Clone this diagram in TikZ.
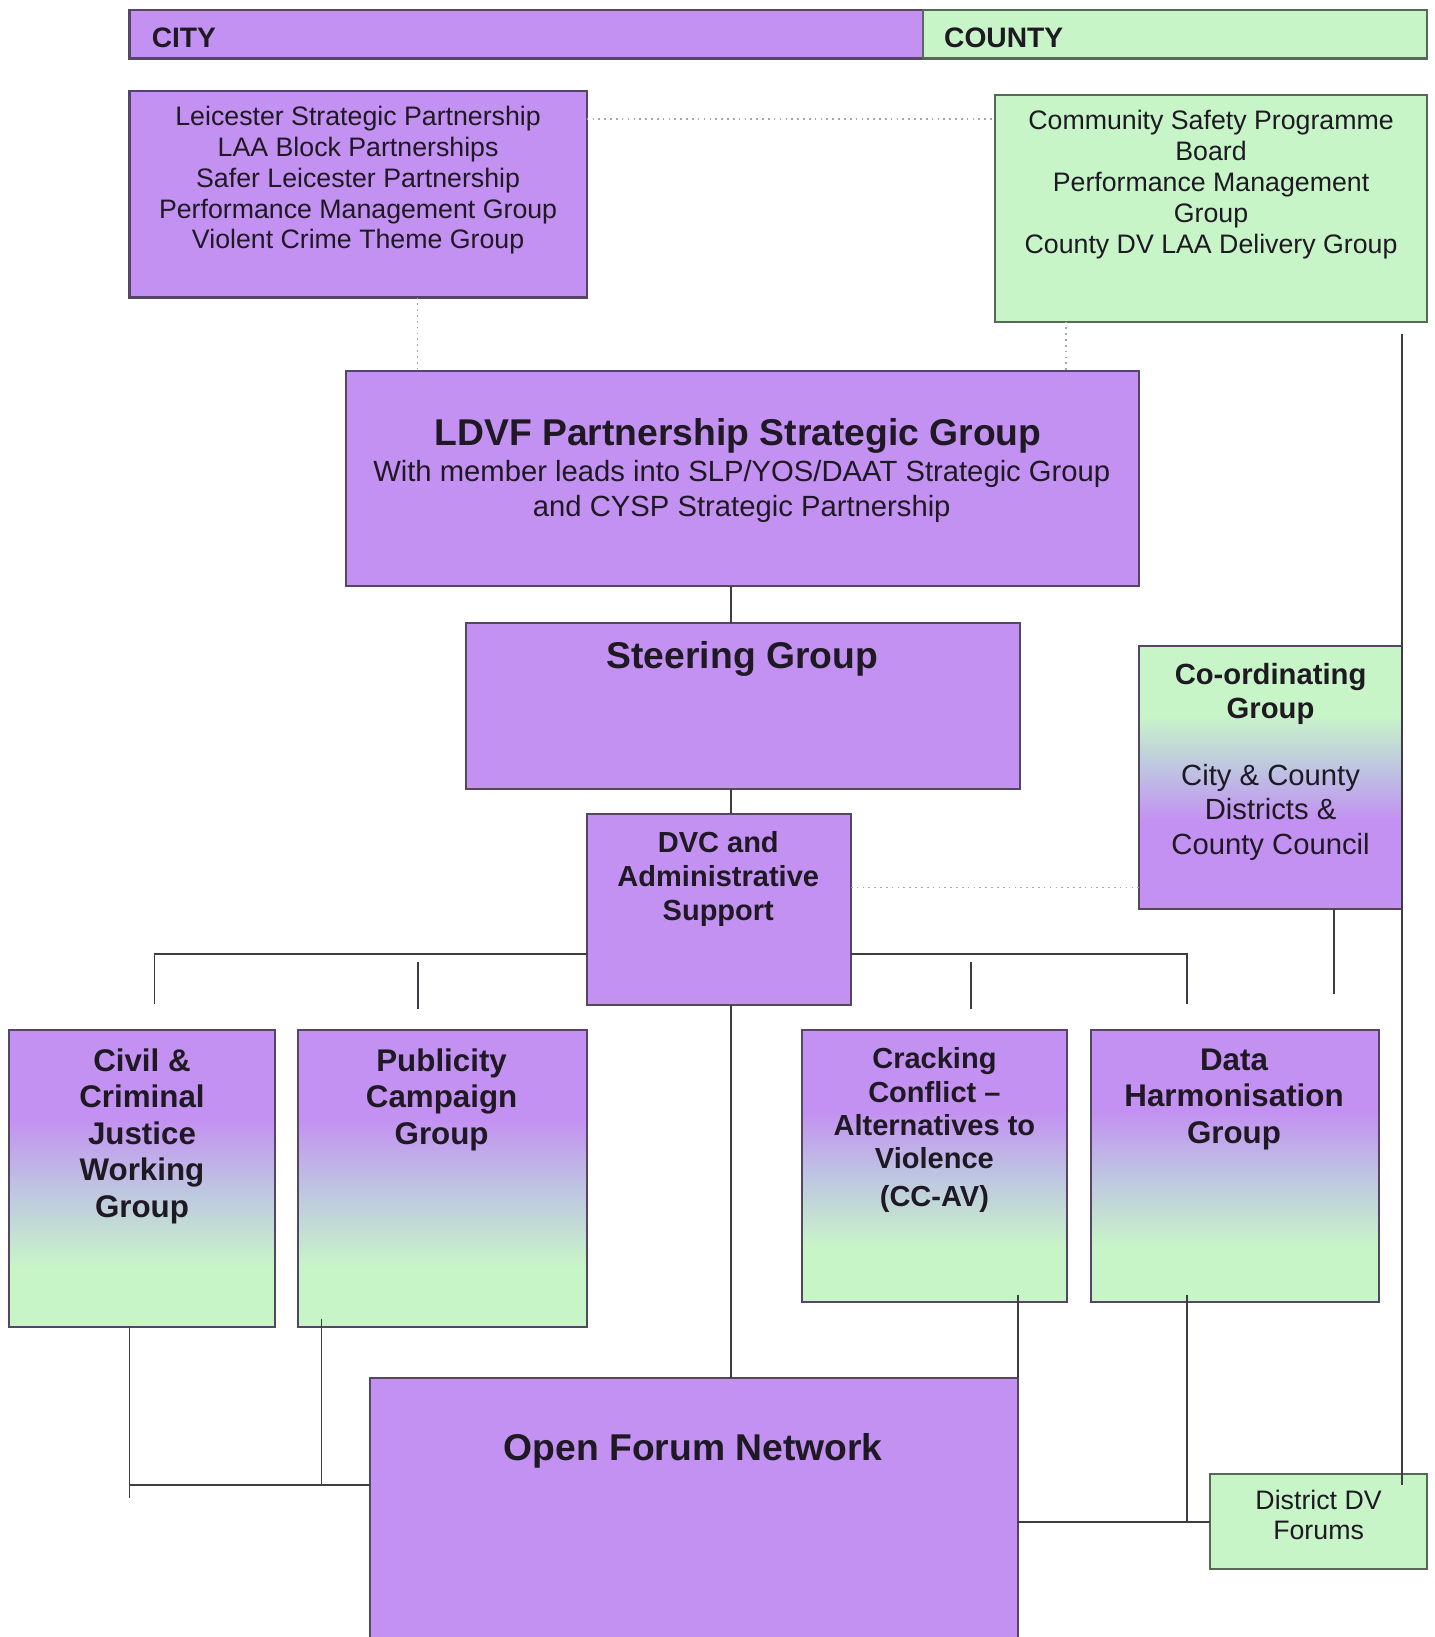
\documentclass[tikz,border=0pt]{standalone}
\usepackage{fontspec}
\setmainfont{Liberation Sans}
\usetikzlibrary{calc}
\definecolor{pur}{RGB}{195,145,241}
\definecolor{grn}{RGB}{200,245,200}
\definecolor{mid}{RGB}{190,198,225}
\definecolor{pedge}{RGB}{85,70,100}
\definecolor{gedge}{RGB}{85,105,85}
\definecolor{ink}{RGB}{30,25,35}
\pgfdeclareverticalshading{purgrn}{100bp}{color(0bp)=(grn); color(35bp)=(grn); color(48bp)=(mid); color(60bp)=(pur); color(100bp)=(pur)}
\pgfdeclareverticalshading{grnpur}{100bp}{color(0bp)=(pur); color(42bp)=(pur); color(52bp)=(mid); color(62bp)=(grn); color(100bp)=(grn)}
\tikzset{
  geom/.style 2 args={minimum width=#1*0.5pt, minimum height=#2*0.5pt, anchor=north west, inner sep=0pt, outer sep=0pt},
  pbox/.style={draw=pedge, fill=pur, line width=1pt},
  gbox/.style={draw=gedge, fill=grn, line width=1pt},
  pgbox/.style={draw=pedge, shade, shading=purgrn, line width=1pt},
  gpbox/.style={draw=pedge, shade, shading=grnpur, line width=1pt},
  conn/.style={draw=ink!85, line width=0.9pt},
  dotline/.style={draw=black!35, line width=0.8pt, dotted},
  txt/.style={align=center, inner sep=0pt, text=ink, anchor=north},
  fA/.style={font=\fontsize{12.8}{14.75}\selectfont},
  fT/.style={font=\bfseries\fontsize{17.85}{21}\selectfont},
  fS/.style={font=\fontsize{14}{16.5}\selectfont},
  fD/.style={font=\bfseries\fontsize{13.9}{16.25}\selectfont},
  fC/.style={font=\fontsize{14}{16.5}\selectfont},
  fB/.style={font=\bfseries\fontsize{15}{17.5}\selectfont},
  fK/.style={font=\bfseries\fontsize{13.9}{16}\selectfont},
  fH/.style={font=\bfseries\fontsize{13.5}{16}\selectfont},
}
\begin{document}
\begin{tikzpicture}[x=0.5pt,y=-0.5pt]
\useasboundingbox (0,0) rectangle (1374,1568);
% header bar
\node[pbox, geom={760}{46}] (city) at (124,10) {};
\node[gbox, geom={483}{46}] (county) at (884,10) {};
% boxes
\node[pbox, geom={438}{198}] (lsp) at (124,87) {};
\node[gbox, geom={414}{217}] (csp) at (953,91) {};
\node[pbox, geom={760}{206}] (ldvf) at (331,355) {};
\node[pbox, geom={531}{159}] (steer) at (446,597) {};
\node[pbox, geom={253}{183}] (dvc) at (562,780) {};
\node[gpbox, geom={252}{252}] (coord) at (1091,619) {};
\node[pgbox, geom={254}{284}] (civil) at (9,987) {};
\node[pgbox, geom={277}{284}] (pub) at (285,987) {};
\node[pgbox, geom={254}{260}] (crack) at (768,987) {};
\node[pgbox, geom={276}{260}] (data) at (1045,987) {};
\node[pbox, geom={621}{270}] (ofn) at (354,1320) {};
\node[gbox, geom={208}{91}] (ddv) at (1159,1412) {};
% dotted links
\coordinate (dl) at ([yshift=-13.5pt]lsp.north east);
\draw[dotline] (dl) -- (dl -| csp.west);
\coordinate (dv1) at ([xshift=28.5pt]lsp.south);
\draw[dotline] (dv1) -- (dv1 |- ldvf.north);
\coordinate (dv2) at ([xshift=-69.5pt]csp.south);
\draw[dotline] (dv2) -- (dv2 |- ldvf.north);
\coordinate (dh) at (0,850);
\draw[dotline] (dvc.east |- dh) -- (coord.west |- dh);
% solid links
\coordinate (spine) at (700,0);
\coordinate (by) at (0,914);
\draw[conn] (ldvf.south -| spine) -- (steer.north -| spine);
\draw[conn] (steer.south -| spine) -- (dvc.north -| spine);
\draw[conn] (dvc.south -| spine) -- (ofn.north -| spine);
\coordinate (civdrop) at (148,962);
\draw[conn] (dvc.west |- by) -| (civdrop);
\coordinate (pubtop) at (400,921);
\coordinate (pubdrop) at (400,966);
\draw[conn] (pubtop) -- (pubdrop);
\coordinate (datdrop) at (1137,962);
\draw[conn] (dvc.east |- by) -| (datdrop);
\coordinate (cctop) at (930,921);
\coordinate (ccdrop) at (930,966);
\draw[conn] (cctop) -- (ccdrop);
\coordinate (cgx) at (1278,952);
\draw[conn] (coord.south -| cgx) -- (cgx);
\coordinate (rtop) at (1343,320);
\coordinate (rbot) at (1343,1422);
\draw[conn] (rtop) -- (rbot);
\coordinate (lx) at (124,1435);
\coordinate (ly) at (0,1422);
\coordinate (px) at (308,1263);
\draw[conn] (civil.south -| lx) -- (lx);
\draw[conn] (px) -- (px |- ly);
\draw[conn] (ofn.west |- ly) -- (lx |- ly);
\coordinate (cx) at (975,1240);
\draw[conn] (cx) -- (ofn.north east);
\coordinate (dx) at (1137,1240);
\draw[conn] (dx) -- (dx |- ddv.west);
\draw[conn] (ofn.east |- ddv.west) -- (ddv.west);
% texts
\node[txt, fH, anchor=west] (cityT) at (145,36) {CITY};
\node[txt, fH, anchor=west] (countyT) at (904,36) {COUNTY};
\node[txt, fA] (lspT) at (343,101.5) {Leicester Strategic Partnership\\LAA Block Partnerships\\Safer Leicester Partnership\\Performance Management Group\\Violent Crime Theme Group};
\node[txt, fA] (cspT) at (1160,105.5) {Community Safety Programme\\Board\\Performance Management\\Group\\County DV LAA Delivery Group};
\node[txt, fT] (ldvfT) at (707,400) {LDVF Partnership Strategic Group};
\node[txt, fS] (ldvfS) at (710.5,440.6) {With member leads into SLP/YOS/DAAT Strategic Group\\and CYSP Strategic Partnership};
\node[txt, fT] (steerT) at (711,614) {Steering Group};
\node[txt, fD] (dvcT) at (688,796) {DVC and\\Administrative\\Support};
\node[txt, fC] (coordT) at (1217,634.7) {{\bfseries Co-ordinating}\\{\bfseries Group}\\[15.5pt]City \& County\\Districts \&\\County Council};
\node[txt, fB] (civT) at (136,1004) {Civil \&\\Criminal\\Justice\\Working\\Group};
\node[txt, fB] (pubT) at (423,1004) {Publicity\\Campaign\\Group};
\node[txt, fK] (crackT) at (895,1003) {Cracking\\Conflict –\\Alternatives to\\Violence\\[2pt](CC-AV)};
\node[txt, fB] (dataT) at (1182,1004) {Data\\Harmonisation\\Group};
\node[txt, fT] (ofnT) at (664,1373) {Open Forum Network};
\node[txt, fA] (ddvT) at (1263,1426.5) {District DV\\Forums};
\end{tikzpicture}
\end{document}
